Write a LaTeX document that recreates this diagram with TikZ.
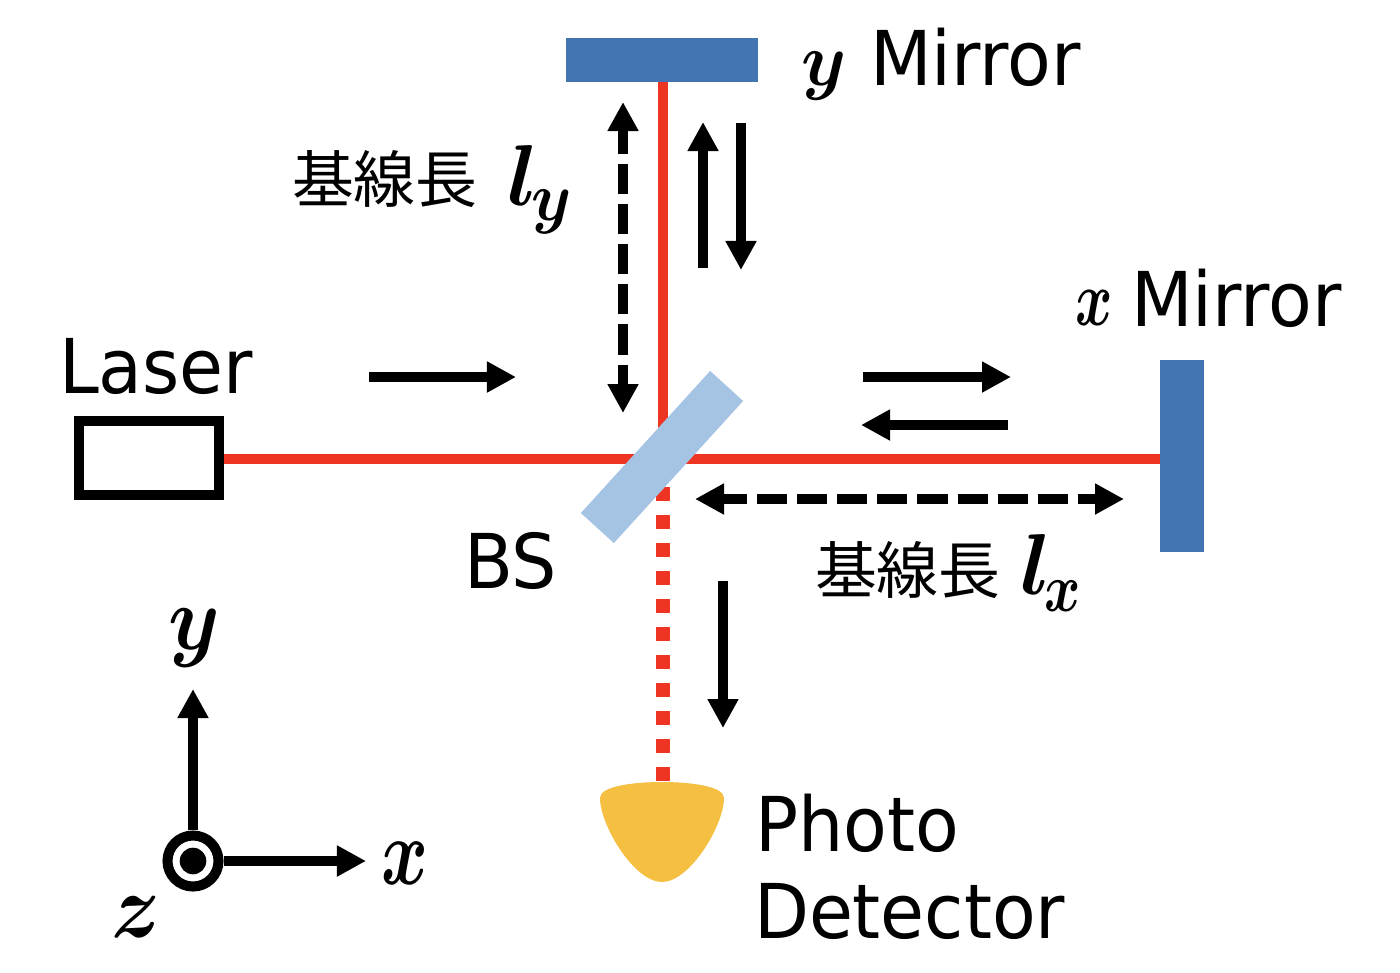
\documentclass[tikz,border=0pt]{standalone}
\usepackage{fix-cm}
\usepackage{fontspec}
\setmainfont{DejaVu Sans}
\newfontfamily\labelfont[FakeStretch=0.945]{DejaVu Sans}
\newfontfamily\cjk{Noto Sans CJK JP}
\usetikzlibrary{arrows.meta}
\definecolor{beamred}{HTML}{EE3524}
\definecolor{mirrorblue}{HTML}{4475B3}
\definecolor{bsblue}{HTML}{A5C3E3}
\definecolor{pdyellow}{HTML}{F5BF41}
\newcommand{\mvar}[2]{\scalebox{#1}[1]{$#2$}}
\newcommand{\lensub}[2]{$l$\kern-1.9pt\raisebox{#1}{\fontsize{19.6}{22}\selectfont #2}}
\tikzset{
    >={Triangle[width=8.3pt,length=8.25pt]},
    beam/.style={beamred,line width=2.85pt},
    pdbeam/.style={beamred,line width=3.98pt,dash pattern=on 3.98pt off 3.98pt},
    flow/.style={black,line width=2.85pt,->},
    span/.style={black,line width=2.85pt,<->,dash pattern=on 8.54pt off 2.85pt,dash phase=1.42pt},
    mirror/.style={fill=mirrorblue,inner sep=0,outer sep=0},
    label/.style={anchor=base west,inner sep=0,outer sep=0,font=\labelfont\fontsize{21.5}{25}\selectfont},
    math/.style={anchor=base west,inner sep=0,outer sep=0,font=\boldmath\fontsize{#1}{30}\selectfont},
    kanji/.style={anchor=west,inner sep=0,outer sep=0,font=\cjk\fontsize{17.6}{20}\selectfont}
}
\begin{document}
\begin{tikzpicture}[x=0.01cm,y=-0.01cm]
    \useasboundingbox (0,0) rectangle (1400,972);

    % Laser
    \node[draw,black,line width=2.85pt,minimum width=1.4cm,minimum height=0.74cm,inner sep=0] (laser) at (149,458) {};
    \node[label] (lasertext) at (59,393) {Laser};

    % Spiegel
    \node[mirror,minimum width=1.92cm,minimum height=0.44cm] (ymirror) at (662,60) {};
    \node[mirror,minimum width=0.44cm,minimum height=1.92cm] (xmirror) at (1182,456) {};
    \node[math=21.5] (ymirrory) at (801,85) {\mvar{0.95}{y}};
    \node[label] (ymirrortext) at (870,85) {Mirror};
    \node[math=22.4] (xmirrorx) at (1075,325) {\mvar{0.72}{x}};
    \node[label] (xmirrortext) at (1131,326) {Mirror};

    % Strahlen
    \coordinate (cross) at (663,459);
    \coordinate (pdtop) at (663,781);
    \coordinate (bsfoot) at (663,487);
    \draw[beam] (laser.east |- cross) -- (xmirror.west |- cross);
    \draw[beam] (cross) -- (cross |- ymirror.south);
    \draw[pdbeam] (bsfoot) -- (pdtop);

    % BS
    \node[fill=bsblue,inner sep=0,outer sep=0,minimum width=1.92cm,minimum height=0.446cm,rotate=47.7] (bs) at (662,457) {};
    \node[label] (bstext) at (464,588) {BS};

    % Detektor
    \path[fill=pdyellow] (662,782) .. controls (690,782) and (724,786) .. (724,798)
        .. controls (724,825) and (690,882) .. (662,882)
        .. controls (634,882) and (600,825) .. (600,798)
        .. controls (600,786) and (634,782) .. (662,782);
    \node[label] (phototext) at (755,851) {Photo};
    \node[label] (detectortext) at (754,938) {Detector};

    % Pfeile
    \path (369,377) coordinate (ina) (516,377) coordinate (inb)
        (703,268) coordinate (upa) (703,122) coordinate (upb)
        (741,123) coordinate (downa) (741,270) coordinate (downb)
        (863,377) coordinate (outa) (1011,377) coordinate (outb)
        (1008,425) coordinate (backa) (861,425) coordinate (backb)
        (723,581) coordinate (pda) (723,728) coordinate (pdb);
    \foreach \a/\b in {ina/inb,upa/upb,downa/downb,outa/outb,backa/backb,pda/pdb} {
        \draw[flow] (\a) -- (\b);
    }

    % Basislinien
    \coordinate (lytop) at (623,102);
    \coordinate (lybottom) at (623,413);
    \coordinate (lxleft) at (695,499);
    \coordinate (lxright) at (1124,499);
    \draw[span] (lytop) -- (lybottom);
    \draw[span] (lxleft) -- (lxright);
    \node[kanji] (lytext) at (292,179) {基線長};
    \node[math=24.6] (lylabel) at (507,205) {\lensub{-4.27pt}{\mvar{0.93}{y}}};
    \node[kanji] (lxtext) at (815,570) {基線長};
    \node[math=24.6] (lxlabel) at (1020,594) {\lensub{-4.84pt}{\mvar{0.8}{x}}};

    % Achsen
    \coordinate (axisx) at (366,861);
    \coordinate (axisy) at (193,689);
    \node[draw,circle,line width=2.85pt,minimum size=0.51cm,inner sep=0] (origin) at (193,861) {};
    \fill (origin.center) circle (13.3);
    \draw[flow] (origin) -- (axisx);
    \draw[flow] (origin) -- (axisy);
    \node[math=27] (xtext) at (381,884) {\mvar{0.75}{x}};
    \node[math=26] (ytext) at (168,649) {\mvar{0.9}{y}};
    \node[math=26] (ztext) at (111,937) {\mvar{0.9}{z}};
\end{tikzpicture}
\end{document}
